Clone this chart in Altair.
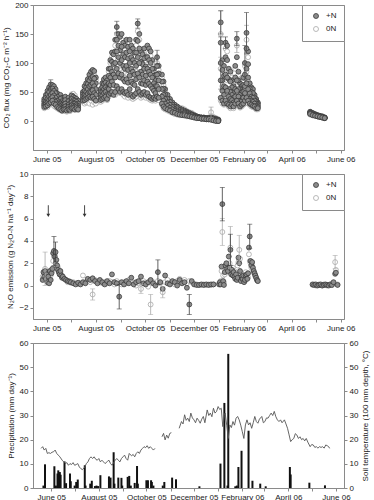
import altair as alt
import pandas as pd

BASE = pd.Timestamp("2005-06-01")  # day 0 of all "days" arrays

# ---------------- CO2 flux (mg CO2-C m-2 h-1) ----------------
co2_days = [-3, -1, 1, 3, 5, 7, 9, 11, 13, 15, 17, 19, 21, 23, 25, 27, 29, 31, 33, 35, 37, 39,
            45, 47, 49, 51, 53, 55, 57, 59, 61,
            67, 69, 71, 73, 75, 77, 79, 81, 83, 85, 87, 89, 91, 93, 95, 97, 99, 101, 103, 105, 107,
            109, 111, 113, 115, 117, 119, 121, 123, 125, 127, 129, 131, 133, 135, 137, 139,
            143, 145, 147, 150, 153, 156, 159, 162, 165, 168, 171, 174, 177, 180, 183, 186, 189, 192,
            195, 198, 201, 204, 207, 210, 213,
            216, 218, 220, 222, 224, 226, 228, 230, 232, 234, 236, 238, 240, 242, 244, 246, 248, 250,
            252, 254, 256, 258, 260, 262,
            327, 330, 333, 336, 339, 342, 345]
co2_n_hi = [38, 45, 52, 58, 63, 62, 60, 55, 48, 42, 45, 40, 38, 42, 35, 40, 36, 44, 42, 40, 38, 35,
            50, 60, 65, 72, 80, 85, 88, 86, 75,
            55, 65, 72, 75, 70, 90, 105, 118, 115, 140, 162, 150, 145, 150, 135, 130, 140, 128, 140, 130, 125,
            118, 140, 168, 150, 120, 115, 125, 110, 130, 125, 120, 105, 90, 80, 110, 95,
            80, 68, 55, 45, 38, 32, 28, 25, 22, 20, 18, 16, 14, 12, 10, 8, 7, 6,
            6, 5, 5, 6, 5, 4, 2,
            170, 105, 95, 135, 130, 90, 85, 70, 60, 95, 142, 85, 65, 60, 75, 100, 152, 120,
            65, 58, 55, 45, 38, 32,
            16, 14, 12, 10, 9, 8, 6]
co2_n_q3 = [34, 40, 46, 50, 55, 56, 52, 48, 42, 37, 38, 34, 32, 36, 31, 34, 31, 38, 36, 35, 33, 30,
            46, 52, 58, 64, 70, 74, 76, 73, 65,
            50, 58, 64, 66, 62, 78, 90, 102, 98, 120, 140, 130, 122, 128, 115, 110, 118, 108, 120, 110, 105,
            100, 118, 138, 125, 102, 98, 108, 94, 110, 105, 100, 90, 78, 70, 95, 82,
            68, 56, 46, 38, 33, 28, 24, 22, 19, 18, 16, 14, 12, 11, 9, 8, 6, 6,
            5, 5, 5, 5, 4, 3, 2,
            135, 88, 78, 110, 105, 72, 68, 58, 50, 75, 110, 70, 55, 50, 62, 80, 125, 98,
            56, 50, 48, 40, 34, 30,
            15, 13, 11, 10, 8, 7, 6]
co2_n_mid = [30, 33, 38, 42, 45, 48, 44, 40, 35, 32, 30, 28, 27, 30, 26, 28, 26, 32, 30, 30, 28, 26,
             42, 45, 50, 55, 60, 62, 65, 60, 55,
             45, 50, 55, 58, 55, 65, 75, 85, 80, 100, 120, 110, 100, 105, 95, 90, 95, 88, 100, 90, 85,
             80, 95, 110, 100, 85, 80, 90, 78, 90, 85, 80, 75, 65, 60, 80, 70,
             55, 45, 38, 32, 28, 24, 20, 18, 16, 15, 14, 12, 11, 10, 8, 7, 6, 5,
             5, 4, 4, 4, 3, 2, 1,
             100, 70, 60, 80, 75, 55, 50, 45, 40, 55, 70, 55, 45, 40, 50, 60, 90, 75,
             48, 42, 40, 35, 30, 27,
             14, 12, 10, 9, 8, 7, 5]
co2_n_q1 = [27, 29, 32, 36, 38, 41, 36, 33, 29, 27, 25, 23, 23, 25, 22, 24, 22, 27, 26, 25, 25, 23,
            38, 40, 44, 47, 50, 50, 53, 48, 45,
            40, 44, 48, 50, 46, 55, 62, 68, 62, 75, 90, 82, 75, 80, 72, 68, 72, 66, 78, 68, 64,
            62, 72, 82, 75, 65, 64, 70, 62, 68, 64, 60, 56, 52, 48, 60, 55,
            42, 35, 30, 26, 23, 20, 17, 15, 13, 12, 12, 10, 9, 8, 7, 6, 5, 4,
            4, 3, 3, 3, 2, 1, 0,
            70, 52, 45, 58, 52, 42, 38, 36, 32, 42, 52, 42, 35, 34, 40, 48, 65, 55,
            38, 35, 33, 30, 26, 24,
            13, 11, 10, 8, 7, 6, 5]
co2_n_lo = [24, 25, 27, 30, 32, 35, 30, 28, 24, 22, 20, 18, 20, 20, 18, 20, 19, 22, 22, 20, 22, 20,
            35, 36, 38, 40, 42, 40, 42, 38, 35,
            36, 38, 40, 42, 38, 45, 48, 50, 45, 50, 60, 55, 50, 55, 50, 48, 50, 45, 55, 45, 42,
            45, 48, 55, 50, 45, 48, 50, 45, 48, 42, 40, 38, 40, 38, 42, 40,
            30, 25, 22, 20, 18, 15, 14, 12, 11, 10, 10, 9, 8, 7, 6, 5, 5, 4,
            4, 3, 3, 2, 1, 0, 0,
            40, 35, 30, 35, 30, 28, 25, 28, 25, 30, 35, 30, 25, 28, 30, 35, 40, 35,
            30, 28, 26, 25, 22, 22,
            12, 10, 9, 8, 7, 6, 5]
co2_0_hi = [35, 42, 48, 55, 60, 57, 55, 50, 45, 40, 42, 38, 36, 40, 33, 38, 34, 46, 47, 44, 36, 33,
            48, 56, 62, 68, 75, 82, 85, 80, 70,
            52, 60, 68, 72, 66, 85, 100, 110, 108, 130, 150, 142, 135, 140, 128, 125, 132, 120, 135, 125, 118,
            112, 130, 155, 140, 115, 108, 118, 105, 120, 118, 112, 100, 85, 75, 100, 88,
            75, 62, 50, 42, 36, 30, 27, 24, 20, 22, 20, 17, 15, 14, 11, 8, 7, 6,
            6, 5, 6, 15, 7, 5, 3,
            150, 90, 85, 125, 120, 85, 80, 75, 65, 90, 130, 80, 70, 55, 70, 95, 140, 110,
            60, 55, 50, 42, 36, 30,
            15, 13, 11, 10, 9, 8, 6]
co2_0_mid = [28, 33, 35, 40, 44, 45, 40, 36, 32, 30, 29, 27, 26, 28, 24, 27, 25, 32, 33, 30, 28, 26,
             40, 42, 46, 50, 52, 58, 55, 54, 50,
             42, 48, 52, 55, 50, 62, 72, 80, 75, 88, 100, 95, 90, 95, 85, 82, 88, 80, 90, 82, 78,
             75, 85, 100, 92, 78, 75, 82, 72, 80, 78, 75, 68, 60, 55, 70, 62,
             50, 40, 34, 30, 26, 22, 19, 17, 15, 15, 13, 12, 11, 10, 8, 7, 6, 5,
             5, 4, 4, 8, 4, 2, 1,
             90, 60, 55, 75, 70, 50, 48, 42, 38, 52, 68, 50, 42, 38, 48, 58, 85, 70,
             45, 40, 38, 33, 28, 25,
             13, 12, 10, 9, 8, 7, 5]
co2_0_lo = [22, 26, 24, 28, 30, 33, 26, 24, 22, 20, 19, 17, 18, 17, 16, 18, 17, 20, 21, 19, 20, 19,
            33, 30, 32, 34, 30, 35, 28, 32, 30,
            33, 35, 38, 40, 36, 42, 50, 55, 48, 45, 55, 50, 48, 50, 45, 42, 45, 40, 48, 40, 38,
            40, 42, 50, 45, 40, 42, 45, 40, 42, 38, 36, 35, 36, 35, 38, 36,
            28, 22, 20, 18, 16, 14, 12, 11, 10, 10, 9, 8, 8, 7, 6, 5, 5, 4,
            4, 3, 3, 3, 2, 0, 0,
            35, 30, 28, 32, 28, 25, 22, 25, 22, 28, 30, 26, 23, 25, 28, 30, 35, 30,
            28, 25, 24, 23, 20, 20,
            11, 10, 9, 8, 7, 6, 5]
co2_err_days = [5, 87, 113, 137, 216, 216, 222, 236, 246, 248, 204, 216, 236, 248]
co2_err_val = [63, 162, 168, 110, 170, 100, 135, 142, 100, 152, 15, 150, 130, 140]
co2_err_sd = [8, 10, 8, 12, 20, 45, 10, 12, 30, 35, 9, 40, 12, 25]
co2_err_group = ["+N", "+N", "+N", "+N", "+N", "+N", "+N", "+N", "+N", "+N", "0N", "0N", "0N", "0N"]

# ---------------- N2O emission (g N2O-N ha-1 day-1) ----------------
n2o_days = [-5, -4, -3, -2, -1, 0, 1, 2, 3, 4, 5, 6, 7, 8, 9, 10, 11, 12, 13, 14, 15, 16, 17, 18, 19, 20,
            22, 24, 26, 28,
            30, 33, 36, 39, 42, 45, 48, 51, 54, 57, 60, 63, 66, 69, 72, 75, 78, 81, 84, 87, 90, 93, 96, 99,
            102, 105, 108, 111, 114, 117, 120, 123, 126, 129, 132, 135, 138, 141, 144, 147, 150, 153, 156,
            159, 162, 165, 168, 171, 174, 177, 180, 183, 186, 189, 192, 195, 198, 201, 204, 207,
            214, 215, 216, 217, 218, 219, 220, 221, 222, 223, 224, 225, 226, 227, 228, 229, 230, 231, 232,
            233, 234, 235, 236, 237, 238, 239, 240, 241, 242, 243, 244, 245, 246, 247, 248, 249, 250, 251,
            252, 253, 254, 255, 256, 257, 258, 259, 260, 261, 262,
            330, 332, 334, 336, 338, 340, 342, 344, 346, 348, 350, 352, 354, 356, 358, 359, 361]
n2o_n = [0.5, 1.2, 0.8, 1.3, 0.6, 1.0, 0.3, 0.8, 0.2, 1.3, 0.5, 1.1, 1.5, 2.9, 3.1, 2.6, 3.0, 2.3, 1.8, 1.4,
         1.2, 1.0, 1.3, 0.9, 0.7, 0.8,
         0.6, 0.5, 0.4, 0.35,
         0.3, 0.2, 0.1, 0.25, 0.1, 0.3, 0.2, 0.6, 0.5, 0.65, 0.4, 0.2, 0.5, 0.3, 0.1, 0.4, 0.2, 1.0, 0.3, 0.2,
         -1.0, 0.3, 0.1, 0.4,
         0.2, 0.7, 0.1, 0.3, 0.4, 0.8, 0.2, 0.1, 0.3, 0.5, 0.2, 0.0, 1.2, 0.3, -0.3, 0.9, 0.2, 0.1, 0.4,
         0.3, 0.0, 0.5, 0.2, 0.3, -0.2, -1.7, 0.4, 0.1, 0.05, 0.05, 0.1, 0.05, 0.1, 0.05, 0.1, 0.1,
         0.1, 0.3, 0.1, 1.7, 7.3, 0.4, 0.05, 1.2, 1.8, 2.0, 1.5, 1.3, 2.6, 1.6, 3.2, 1.0, 1.4, 0.9, 1.2,
         0.8, 0.6, 1.0, 0.5, 0.7, 2.5, 2.0, 1.3, 0.4, 0.8, 0.6, 0.9, 0.3, 0.5, 0.9, 1.0, 0.6, 1.1, 3.4,
         4.4, 2.2, 1.8, 2.1, 1.6, 1.3, 1.1, 0.9, 0.7, 0.5, 0.4,
         0.1, 0.05, 0.1, 0.0, 0.05, 0.1, 0.0, 0.05, 0.1, 0.05, 0.0, 0.1, 0.05, 0.3, 1.05, 1.15, 0.05]
n2o_0 = [0.8, 0.6, 1.1, 1.5, 1.0, 0.4, 0.8, 1.2, 0.5, 1.0, 0.9, 1.4, 1.3, 2.2, 2.6, 2.8, 2.0, 1.8, 1.5, 1.6,
         1.4, 1.2, 1.1, 1.0, 0.9, 0.7,
         0.6, 0.5, 0.3, 0.4,
         0.25, 0.3, 0.2, 0.15, 0.2, 0.9, 0.3, 0.4, 0.3, -0.8, 0.5, 0.4, 0.3, 0.2, 0.3, 0.2, 0.4, 0.3, 0.1, 0.4,
         0.2, 0.1, 0.3, 0.2,
         0.5, 0.3, 0.2, 0.0, 0.2, -0.3, 0.4, 0.2, -0.1, -1.7, 0.3, 0.1, 0.4, 0.2, -0.6, 0.3, 0.5, 0.2, 0.3,
         0.1, 0.4, 0.6, 0.3, 0.5, 0.2, 0.4, 0.3, 0.15, 0.1, 0.05, 0.05, 0.1, 0.05, 0.1, 0.05, 0.1,
         0.2, 0.1, 0.4, 1.3, 4.8, 0.9, 0.3, 1.0, 1.4, 1.6, 1.2, 1.8, 1.5, 2.0, 3.4, 1.5, 1.2, 1.6, 1.0,
         1.3, 0.9, 1.1, 0.7, 1.8, 2.1, 3.2, 2.4, 0.8, 1.0, 0.7, 0.5, 0.6, 0.4, 1.2, 0.8, 0.9, 0.7, 2.8,
         2.2, 2.0, 1.6, 1.9, 1.4, 1.2, 1.0, 0.8, 0.7, 0.5, 0.4,
         0.05, 0.1, 0.0, 0.05, 0.1, 0.05, 0.0, 0.1, 0.05, 0.0, 0.05, 0.1, 0.05, 0.2, 2.1, 1.4, 0.1]
n2o_err_days = [9, 11, 90, 138, 177, 218, 228, 252, -2, 57, 117, 129, 144, 218, 228, 239, 358]
n2o_err_val = [3.1, 3.0, -1.0, 1.2, -1.7, 7.3, 3.2, 4.4, 1.5, -0.8, -0.3, -1.7, -0.6, 4.8, 3.4, 3.2, 2.1]
n2o_err_sd = [1.3, 0.9, 1.1, 1.1, 0.9, 1.5, 1.4, 1.1, 1.5, 0.5, 0.4, 0.9, 0.5, 1.2, 1.9, 1.3, 0.6]
n2o_err_group = ["+N"] * 8 + ["0N"] * 9
arrow_days = [2, 47]  # fertiliser applications

# ---------------- Precipitation (mm day-1) ----------------
rain_days = [-10, -8, 4, 6, 8, 9, 11, 12, 17, 19, 24, 25, 30, 32, 34, 43, 44, 50, 52, 56, 58, 60, 63,
             74, 76, 80, 81, 86, 90, 91, 98, 100, 102, 107, 110, 111, 122, 124, 128, 129, 131, 143, 145,
             155, 160, 190, 217, 222, 226, 227, 236, 238, 240, 244, 253, 258, 268, 275, 306, 307, 331, 351]
rain_mm = [1.0, 9.8, 9.0, 1.0, 6.0, 7.3, 6.6, 5.5, 11.0, 2.0, 6.0, 2.8, 1.0, 2.5, 3.5, 9.4, 1.0, 1.8, 3.0,
           0.8, 1.0, 0.8, 5.3, 4.8, 4.3, 14.8, 1.8, 4.3, 4.2, 1.0, 4.6, 5.0, 1.0, 2.1, 9.1, 1.8, 3.2, 3.2,
           3.2, 2.5, 1.0, 1.0, 2.5, 4.3, 3.6, 0.7, 10.1, 35.2, 1.0, 55.5, 0.7, 1.0, 8.7, 15.4, 23.7, 3.0,
           1.8, 0.7, 8.7, 5.6, 2.2, 1.1]

# ---------------- Soil temperature (100 mm depth, degC), three logged segments ----------------
temp1_days = [-13, -11, -9, -7, -5, -3, -1, 1, 3, 5, 7, 9, 11, 14, 16, 18, 20, 22, 24, 26, 28, 30, 32,
              34, 36, 38, 40, 43, 45, 47, 49, 51, 53, 55, 57, 59, 61, 63, 65, 67, 69, 72, 74, 76, 78, 80,
              82, 84, 86, 88, 90, 92, 94, 96, 98, 100, 103, 105, 107, 109, 111, 113, 115, 117, 119, 121,
              123, 125, 127, 129, 131, 133]
temp1_c = [16.4, 17.1, 15.7, 16.4, 14.3, 14.6, 14.3, 14.8, 15.0, 15.7, 14.3, 13.6, 12.9, 11.5, 10.8, 10.1,
           10.5, 9.4, 10.1, 9.7, 10.5, 9.4, 9.7, 10.1, 8.7, 8.0, 7.6, 8.7, 10.1, 10.8, 12.2, 12.9, 12.2,
           12.9, 11.9, 11.5, 12.2, 10.8, 11.5, 10.8, 10.1, 11.0, 11.5, 10.1, 9.4, 10.5, 11.5, 12.2, 11.5,
           10.8, 12.2, 12.9, 13.6, 12.2, 11.5, 14.3, 13.3, 13.9, 12.9, 14.3, 15.0, 14.3, 15.7, 16.4, 17.1,
           16.7, 17.5, 16.4, 17.1, 16.4, 15.7, 16.4]
temp2_days = [142, 144, 146, 148, 150, 152, 154]
temp2_c = [21.2, 22.6, 19.9, 21.9, 20.6, 22.6, 22.9]
temp3_days = [164, 167, 169, 171, 173, 175, 177, 179, 181, 183, 185, 187, 189, 191, 193, 195, 197, 200,
              202, 204, 206, 208, 210, 212, 214, 216, 218, 220, 222, 223, 225, 227, 229, 231, 233, 235,
              237, 239, 241, 243, 245, 247, 249, 251, 253, 255, 257, 259, 261, 263, 265, 267, 270, 272,
              274, 276, 278, 280, 282, 284, 286, 288, 290, 292, 294, 296, 299, 301, 303, 305, 307, 309,
              311, 313, 315, 317, 319, 321, 323, 325, 327, 329, 332, 334, 336, 338, 340, 342, 344, 346,
              348, 350, 352, 354, 356, 357]
temp3_c = [24.7, 27.5, 26.5, 30.3, 28.0, 28.9, 27.5, 31.0, 29.0, 28.2, 27.0, 28.9, 28.0, 26.8, 28.5, 29.6,
           27.0, 32.3, 30.0, 31.0, 29.5, 33.0, 31.0, 31.7, 33.7, 32.5, 33.0, 25.4, 30.0, 31.0, 26.0, 20.5,
           26.1, 25.0, 27.5, 26.0, 28.9, 29.6, 28.2, 26.0, 23.3, 20.5, 26.1, 28.2, 26.1, 27.0, 24.7, 27.0,
           29.6, 27.5, 26.8, 28.5, 29.6, 27.0, 27.5, 29.0, 28.9, 30.0, 31.0, 30.0, 31.7, 29.5, 28.2, 27.5,
           28.2, 27.0, 28.2, 26.5, 24.7, 22.0, 19.2, 20.0, 20.5, 22.5, 21.9, 20.5, 21.2, 20.0, 20.5, 19.5,
           20.5, 19.0, 17.1, 18.0, 17.8, 16.8, 17.1, 16.5, 17.1, 16.8, 17.1, 16.5, 17.8, 17.5, 17.0, 16.4]

# ---------------- tables ----------------
def to_dates(days):
    return [BASE + pd.Timedelta(days=int(d)) for d in days]

co2_rows = []
for series, grp in [(co2_0_hi, "0N"), (co2_0_mid, "0N"), (co2_0_lo, "0N"),
                    (co2_n_hi, "+N"), (co2_n_q3, "+N"), (co2_n_mid, "+N"), (co2_n_q1, "+N"), (co2_n_lo, "+N")]:
    co2_rows.append(pd.DataFrame({"date": to_dates(co2_days), "value": series, "group": grp}))
co2_df = pd.concat(co2_rows, ignore_index=True)

co2_err = pd.DataFrame({"date": to_dates(co2_err_days), "val": co2_err_val, "sd": co2_err_sd, "group": co2_err_group})
co2_err["lo"] = co2_err["val"] - co2_err["sd"]
co2_err["hi"] = co2_err["val"] + co2_err["sd"]

n2o_df = pd.concat([
    pd.DataFrame({"date": to_dates(n2o_days), "value": n2o_0, "group": "0N"}),
    pd.DataFrame({"date": to_dates(n2o_days), "value": n2o_n, "group": "+N"}),
], ignore_index=True)
n2o_err = pd.DataFrame({"date": to_dates(n2o_err_days), "val": n2o_err_val, "sd": n2o_err_sd, "group": n2o_err_group})
n2o_err["lo"] = n2o_err["val"] - n2o_err["sd"]
n2o_err["hi"] = n2o_err["val"] + n2o_err["sd"]
arrow_df = pd.DataFrame({"date": to_dates(arrow_days), "top": 7.2, "bottom": 6.35, "head": 6.3})

rain_df = pd.DataFrame({"date": to_dates(rain_days), "mm": rain_mm})
temp_df = pd.concat([
    pd.DataFrame({"date": to_dates(temp1_days), "temp": temp1_c, "seg": "a"}),
    pd.DataFrame({"date": to_dates(temp2_days), "temp": temp2_c, "seg": "b"}),
    pd.DataFrame({"date": to_dates(temp3_days), "temp": temp3_c, "seg": "c"}),
], ignore_index=True)

# ---------------- chart ----------------
W, H = 311, 145
FONT = "Liberation Sans"
xscale = alt.Scale(domain=[alt.DateTime(year=2005, month=5, date=15),
                           alt.DateTime(year=2006, month=6, date=5)])
xaxis = alt.Axis(title=None, tickCount={"interval": "month", "step": 1},
                 labelExpr="month(datum.value) % 2 == 1 ? timeFormat(datum.value, '%B %y') : ''",
                 labelOverlap=False, labelFlush=False, tickSize=3, labelPadding=2)


def X():
    return alt.X("date:T", scale=xscale, axis=xaxis, title=None)


groups = ["+N", "0N"]
fill_scale = alt.Scale(domain=groups, range=["#8c8c8c", "#ffffff"])
stroke_scale = alt.Scale(domain=groups, range=["#3a3a3a", "#a8a8a8"])


def points(df, yscale, yaxis):
    return alt.Chart(df).mark_circle(size=24, strokeWidth=0.8, opacity=1).encode(
        x=X(),
        y=alt.Y("value:Q", scale=yscale, axis=yaxis, title=yaxis.title),
        fill=alt.Fill("group:N", scale=fill_scale, legend=alt.Legend(title=None)),
        stroke=alt.Stroke("group:N", scale=stroke_scale, legend=alt.Legend(title=None)),
    )


def errbars(df, yscale, yaxis, grp, color):
    base = alt.Chart(df).transform_filter(alt.datum.group == grp)
    rule = base.mark_rule(color=color, strokeWidth=0.8).encode(
        x=X(), y=alt.Y("lo:Q", scale=yscale, axis=yaxis, title=yaxis.title), y2="hi:Q")
    cap_hi = base.mark_tick(color=color, orient="horizontal", size=5, thickness=0.8).encode(
        x=X(), y=alt.Y("hi:Q", scale=yscale, axis=yaxis, title=yaxis.title))
    cap_lo = base.mark_tick(color=color, orient="horizontal", size=5, thickness=0.8).encode(
        x=X(), y=alt.Y("lo:Q", scale=yscale, axis=yaxis, title=yaxis.title))
    return [rule, cap_hi, cap_lo]


co2_y = alt.Scale(domain=[-50, 200], nice=False)
co2_axis = alt.Axis(values=[0, 50, 100, 150, 200], title="CO₂ flux (mg CO₂-C m⁻² h⁻¹)",
                    tickSize=3, labelPadding=2, titlePadding=4)
p1 = alt.layer(
    points(co2_df, co2_y, co2_axis),
    *errbars(co2_err, co2_y, co2_axis, "0N", "#9a9a9a"),
    *errbars(co2_err, co2_y, co2_axis, "+N", "#4a4a4a"),
).properties(width=W, height=H)

n2o_y = alt.Scale(domain=[-3, 10], nice=False)
n2o_axis = alt.Axis(values=[-2, 0, 2, 4, 6, 8, 10], title="N₂O emission (g N₂O-N ha⁻¹ day⁻¹)",
                    tickSize=3, labelPadding=2, titlePadding=4)
arrow_rule = alt.Chart(arrow_df).mark_rule(color="#333", strokeWidth=0.9).encode(
    x=X(), y=alt.Y("top:Q", scale=n2o_y, axis=n2o_axis, title=n2o_axis.title), y2="bottom:Q")
arrow_head = alt.Chart(arrow_df).mark_point(shape="triangle-down", filled=True, color="#333", size=14,
                                            opacity=1).encode(
    x=X(), y=alt.Y("head:Q", scale=n2o_y, axis=n2o_axis, title=n2o_axis.title))
p2 = alt.layer(
    points(n2o_df, n2o_y, n2o_axis),
    *errbars(n2o_err, n2o_y, n2o_axis, "0N", "#a8a8a8"),
    *errbars(n2o_err, n2o_y, n2o_axis, "+N", "#3a3a3a"),
    arrow_rule, arrow_head,
).properties(width=W, height=H)

p3_y = alt.Scale(domain=[0, 60], nice=False)
bars = alt.Chart(rain_df).mark_bar(size=2, color="#111111").encode(
    x=X(),
    y=alt.Y("mm:Q", scale=p3_y, title="Precipitation (mm day⁻¹)",
            axis=alt.Axis(values=[0, 10, 20, 30, 40, 50, 60], tickSize=3, labelPadding=2, titlePadding=4)))
line = alt.Chart(temp_df).mark_line(color="#555555", strokeWidth=0.9).encode(
    x=X(),
    y=alt.Y("temp:Q", scale=p3_y, title="Soil temperature (100 mm depth, °C)",
            axis=alt.Axis(orient="right", values=[0, 10, 20, 30, 40, 50, 60], titleAngle=270,
                          tickSize=3, labelPadding=2, titlePadding=12)),
    detail="seg:N")
p3 = alt.layer(bars, line).resolve_scale(y="independent").properties(width=W, height=H)

chart = alt.vconcat(p1, p2, p3, spacing=5).resolve_scale(
    fill="independent", stroke="independent").resolve_legend(
    fill="independent", stroke="independent").properties(
    padding={"left": 2, "right": 0, "top": 0, "bottom": 0}, background="white"
).configure(font=FONT).configure_view(stroke="#8a8a8a", strokeWidth=1).configure_axis(
    domainColor="#8a8a8a", tickColor="#8a8a8a", labelColor="#222222", titleColor="#222222",
    labelFont=FONT, titleFont=FONT, labelFontSize=8, titleFontSize=8, titleFontWeight="normal", grid=False
).configure_legend(
    orient="top-right", offset=0, strokeColor="#8a8a8a", fillColor="white", padding=7, rowPadding=3,
    labelFont=FONT, labelFontSize=8, labelColor="#222222", symbolSize=25, symbolStrokeWidth=0.8,
    labelOffset=6, symbolOffset=3, cornerRadius=0
)

chart.save("out.html", embed_options={"renderer": "svg", "actions": False})
